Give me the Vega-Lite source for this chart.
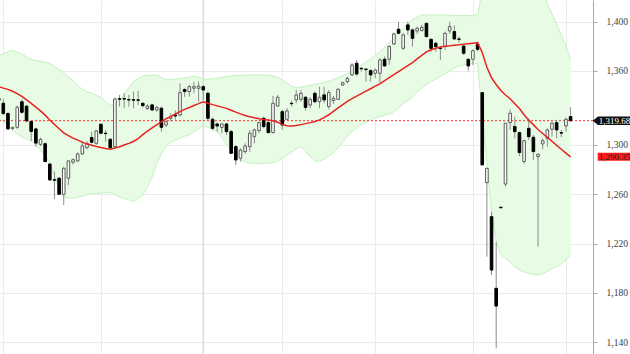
{
  "$schema": "https://vega.github.io/schema/vega-lite/v6.json",
  "width": 593,
  "height": 354,
  "autosize": {"type": "none"},
  "padding": {"left": 0, "top": 0, "right": 37, "bottom": 0},
  "background": "white",
  "config": {"view": {"stroke": null}, "font": "Liberation Sans Narrow", "scale": {"continuousPadding": 0}},
  "datasets": {
    "candles": [
      {"k":-1,"o":1338,"h":1340,"l":1333,"c":1336,"ma":1347.3,"up":1372.5,"lo":1321},
      {"k":0,"o":1333.8,"h":1337.5,"l":1324,"c":1325.5,"ma":1346.1,"up":1374,"lo":1319},
      {"k":1,"o":1325.5,"h":1326.5,"l":1312,"c":1313,"ma":1345.1,"up":1375.5,"lo":1316},
      {"k":2,"o":1313.5,"h":1315,"l":1312,"c":1314,"ma":1343.6,"up":1377,"lo":1312},
      {"k":3,"o":1314.3,"h":1332,"l":1313,"c":1330.5,"ma":1341.7,"up":1375.5,"lo":1309},
      {"k":4,"o":1335,"h":1337,"l":1325.5,"c":1326.5,"ma":1339.4,"up":1373.5,"lo":1306.5},
      {"k":5,"o":1331.5,"h":1332.5,"l":1318.5,"c":1319.5,"ma":1336.5,"up":1371.5,"lo":1305},
      {"k":6,"o":1319,"h":1320,"l":1303,"c":1311,"ma":1333.7,"up":1369.5,"lo":1303.5},
      {"k":7,"o":1313,"h":1314,"l":1298.5,"c":1301.5,"ma":1330.7,"up":1368.5,"lo":1300},
      {"k":8,"o":1300.5,"h":1306,"l":1299,"c":1304.5,"ma":1327.6,"up":1368,"lo":1296},
      {"k":9,"o":1301,"h":1302,"l":1286,"c":1286.5,"ma":1324.2,"up":1367.1,"lo":1291},
      {"k":10,"o":1284.5,"h":1285.5,"l":1271,"c":1271.6,"ma":1320.2,"up":1366.4,"lo":1285},
      {"k":11,"o":1271.8,"h":1278.4,"l":1256.2,"c":1271.4,"ma":1316.7,"up":1363.8,"lo":1275},
      {"k":12,"o":1273,"h":1274,"l":1259.5,"c":1260,"ma":1313.2,"up":1361.2,"lo":1265},
      {"k":13,"o":1260,"h":1282.4,"l":1251.3,"c":1281,"ma":1309.8,"up":1358.5,"lo":1258},
      {"k":14,"o":1273,"h":1287.5,"l":1267.5,"c":1287,"ma":1307.6,"up":1355.5,"lo":1256.8},
      {"k":15,"o":1286,"h":1289,"l":1284,"c":1288,"ma":1305.5,"up":1352,"lo":1257},
      {"k":16,"o":1287,"h":1294,"l":1286,"c":1292.7,"ma":1303.9,"up":1348.5,"lo":1257.5},
      {"k":17,"o":1292.7,"h":1302.7,"l":1291.9,"c":1299.2,"ma":1302.3,"up":1345,"lo":1258.5},
      {"k":18,"o":1297.8,"h":1303,"l":1296.5,"c":1301.3,"ma":1300.7,"up":1343.3,"lo":1259.5},
      {"k":19,"o":1306,"h":1310.8,"l":1301.3,"c":1302.2,"ma":1299.8,"up":1341.9,"lo":1260.2},
      {"k":20,"o":1301.3,"h":1312.2,"l":1300,"c":1311.4,"ma":1298.8,"up":1340.4,"lo":1260.5},
      {"k":21,"o":1316.8,"h":1317.6,"l":1308.7,"c":1309.5,"ma":1297.9,"up":1338.5,"lo":1261},
      {"k":22,"o":1309.5,"h":1312.2,"l":1302.7,"c":1309.2,"ma":1297.2,"up":1335.2,"lo":1261.2},
      {"k":23,"o":1304.6,"h":1305.5,"l":1296.8,"c":1297.8,"ma":1296.6,"up":1332,"lo":1261.3},
      {"k":24,"o":1298.6,"h":1338.4,"l":1297.8,"c":1337.3,"ma":1297.5,"up":1333,"lo":1260},
      {"k":25,"o":1337.5,"h":1340.6,"l":1331.1,"c":1337.1,"ma":1298.5,"up":1336.2,"lo":1258},
      {"k":26,"o":1337.6,"h":1342,"l":1329.8,"c":1337.2,"ma":1299.9,"up":1341,"lo":1256.5},
      {"k":27,"o":1336.8,"h":1340.6,"l":1331.1,"c":1336.5,"ma":1301.3,"up":1346.6,"lo":1255.5},
      {"k":28,"o":1336.7,"h":1343.3,"l":1329.8,"c":1336.3,"ma":1302.8,"up":1351.6,"lo":1254},
      {"k":29,"o":1336.6,"h":1343.8,"l":1332.4,"c":1336.2,"ma":1305.1,"up":1353.8,"lo":1256.5},
      {"k":30,"o":1333.8,"h":1334.5,"l":1330.5,"c":1331.9,"ma":1308.4,"up":1356,"lo":1259.5},
      {"k":31,"o":1329.5,"h":1333,"l":1328.5,"c":1331.5,"ma":1311.2,"up":1356.3,"lo":1266},
      {"k":32,"o":1332.5,"h":1333.5,"l":1327.5,"c":1328.4,"ma":1313.8,"up":1356.5,"lo":1274},
      {"k":33,"o":1328.4,"h":1331.5,"l":1327,"c":1330.6,"ma":1316.2,"up":1356.8,"lo":1285},
      {"k":34,"o":1329.8,"h":1331,"l":1310.8,"c":1314.3,"ma":1318.7,"up":1354.9,"lo":1293},
      {"k":35,"o":1316.2,"h":1320,"l":1314.5,"c":1318.9,"ma":1321.3,"up":1353,"lo":1299},
      {"k":36,"o":1321.6,"h":1325.7,"l":1319,"c":1323,"ma":1323,"up":1353,"lo":1302},
      {"k":37,"o":1324.3,"h":1328,"l":1320.5,"c":1323.5,"ma":1325.1,"up":1353.4,"lo":1304},
      {"k":38,"o":1324.3,"h":1350,"l":1323,"c":1342.4,"ma":1327,"up":1353.8,"lo":1305.5},
      {"k":39,"o":1345,"h":1346,"l":1339,"c":1343.3,"ma":1328.9,"up":1354.3,"lo":1307},
      {"k":40,"o":1343.3,"h":1348.6,"l":1339.2,"c":1347.3,"ma":1330.4,"up":1355,"lo":1308.5},
      {"k":41,"o":1346,"h":1351,"l":1342,"c":1347.3,"ma":1332,"up":1355.6,"lo":1310.5},
      {"k":42,"o":1346,"h":1351.4,"l":1335,"c":1347.8,"ma":1333.5,"up":1355,"lo":1313},
      {"k":43,"o":1347.3,"h":1348.6,"l":1336.5,"c":1344.6,"ma":1335.1,"up":1353,"lo":1315.5},
      {"k":44,"o":1341.9,"h":1343.3,"l":1320.3,"c":1321.6,"ma":1333.8,"up":1353.4,"lo":1314.5},
      {"k":45,"o":1320.8,"h":1322.4,"l":1312.2,"c":1313.5,"ma":1332.7,"up":1353.8,"lo":1312},
      {"k":46,"o":1317,"h":1318.1,"l":1310.8,"c":1315.4,"ma":1331.7,"up":1354.2,"lo":1310.8},
      {"k":47,"o":1314.3,"h":1317.6,"l":1309.5,"c":1317,"ma":1330.7,"up":1354.8,"lo":1306},
      {"k":48,"o":1317,"h":1318.1,"l":1308.1,"c":1310.8,"ma":1329.7,"up":1355.5,"lo":1300.5},
      {"k":49,"o":1310.8,"h":1312.2,"l":1293,"c":1293.2,"ma":1328.2,"up":1356,"lo":1296},
      {"k":50,"o":1298.6,"h":1300,"l":1283.8,"c":1287.8,"ma":1326.6,"up":1356.3,"lo":1292},
      {"k":51,"o":1289.2,"h":1297.3,"l":1286.5,"c":1295.9,"ma":1325.2,"up":1356.5,"lo":1288},
      {"k":52,"o":1294.6,"h":1301.3,"l":1292.7,"c":1299.2,"ma":1323.9,"up":1356.6,"lo":1286.5},
      {"k":53,"o":1298.6,"h":1312.2,"l":1294.6,"c":1309.5,"ma":1322.9,"up":1356.8,"lo":1285.3},
      {"k":54,"o":1306.7,"h":1313.5,"l":1301.3,"c":1312.2,"ma":1322,"up":1356.8,"lo":1285.1},
      {"k":55,"o":1311.6,"h":1319,"l":1309.5,"c":1318.1,"ma":1321.2,"up":1356.8,"lo":1285.1},
      {"k":56,"o":1321.6,"h":1323,"l":1313.5,"c":1314.9,"ma":1320.7,"up":1356.8,"lo":1285.1},
      {"k":57,"o":1318.1,"h":1319,"l":1309.5,"c":1310,"ma":1320.3,"up":1356.6,"lo":1285.1},
      {"k":58,"o":1310,"h":1339.8,"l":1309.5,"c":1333.8,"ma":1319.7,"up":1355.9,"lo":1285.5},
      {"k":59,"o":1331.6,"h":1340.6,"l":1331,"c":1338.7,"ma":1318.4,"up":1355,"lo":1286.8},
      {"k":60,"o":1327,"h":1328.4,"l":1312.2,"c":1316.2,"ma":1316.7,"up":1352.5,"lo":1289},
      {"k":61,"o":1320.8,"h":1329.8,"l":1320.3,"c":1327.6,"ma":1315.6,"up":1350.2,"lo":1292},
      {"k":62,"o":1333.8,"h":1336,"l":1331,"c":1333.5,"ma":1315.4,"up":1347.8,"lo":1294},
      {"k":63,"o":1336.5,"h":1344.6,"l":1333.8,"c":1340.6,"ma":1315.7,"up":1346.2,"lo":1297},
      {"k":64,"o":1337,"h":1344.6,"l":1335.2,"c":1341.9,"ma":1316.5,"up":1346.9,"lo":1298.6},
      {"k":65,"o":1338.7,"h":1339.8,"l":1327.8,"c":1330.5,"ma":1317.3,"up":1347.7,"lo":1294.5},
      {"k":66,"o":1332.4,"h":1338.7,"l":1329.7,"c":1337,"ma":1318.1,"up":1348.5,"lo":1290.5},
      {"k":67,"o":1341.9,"h":1343.3,"l":1333.8,"c":1335.1,"ma":1319,"up":1349.2,"lo":1287},
      {"k":68,"o":1335.1,"h":1347.3,"l":1329.7,"c":1338.7,"ma":1320.3,"up":1349.9,"lo":1286.5},
      {"k":69,"o":1340.6,"h":1347.3,"l":1333.8,"c":1336.5,"ma":1322.2,"up":1350.7,"lo":1288.5},
      {"k":70,"o":1331.1,"h":1344.6,"l":1328.9,"c":1342.5,"ma":1324.5,"up":1351.6,"lo":1291},
      {"k":71,"o":1336,"h":1339.8,"l":1333.3,"c":1337.8,"ma":1327.2,"up":1353.1,"lo":1293.5},
      {"k":72,"o":1337,"h":1346,"l":1336.5,"c":1345.2,"ma":1330,"up":1354.6,"lo":1297.5},
      {"k":73,"o":1348.7,"h":1351.4,"l":1347.9,"c":1350.5,"ma":1332.8,"up":1356.1,"lo":1302.5},
      {"k":74,"o":1351.4,"h":1355.4,"l":1350,"c":1354,"ma":1335.4,"up":1357.9,"lo":1307},
      {"k":75,"o":1356.8,"h":1366.3,"l":1356,"c":1364.9,"ma":1337.6,"up":1360.2,"lo":1311},
      {"k":76,"o":1366.3,"h":1369,"l":1355.9,"c":1357.6,"ma":1339.6,"up":1362.4,"lo":1314},
      {"k":77,"o":1362.2,"h":1363,"l":1359.5,"c":1361.8,"ma":1341.6,"up":1364.7,"lo":1316.5},
      {"k":78,"o":1361.6,"h":1361.8,"l":1351.4,"c":1361.2,"ma":1343.6,"up":1367.4,"lo":1318.5},
      {"k":79,"o":1360.3,"h":1361.4,"l":1351.4,"c":1356.8,"ma":1345.6,"up":1370,"lo":1320.5},
      {"k":80,"o":1358.1,"h":1362,"l":1354.1,"c":1360.8,"ma":1347.7,"up":1372.7,"lo":1322},
      {"k":81,"o":1358.1,"h":1370.3,"l":1350.5,"c":1369,"ma":1349.6,"up":1375.7,"lo":1323},
      {"k":82,"o":1369.5,"h":1371.7,"l":1363.5,"c":1364.1,"ma":1352.2,"up":1379.5,"lo":1324.3},
      {"k":83,"o":1369.5,"h":1381.1,"l":1364.9,"c":1379.8,"ma":1354.7,"up":1383.3,"lo":1325.3},
      {"k":84,"o":1381.9,"h":1391.1,"l":1381.1,"c":1390.1,"ma":1357,"up":1387,"lo":1327},
      {"k":85,"o":1393.9,"h":1400,"l":1390,"c":1390.6,"ma":1359.5,"up":1390.8,"lo":1330},
      {"k":86,"o":1378.4,"h":1390.6,"l":1377.1,"c":1389.3,"ma":1361.9,"up":1394.5,"lo":1333.5},
      {"k":87,"o":1397.4,"h":1400,"l":1389.3,"c":1393.3,"ma":1364.3,"up":1398.3,"lo":1336},
      {"k":88,"o":1393.3,"h":1394.7,"l":1379.8,"c":1386.5,"ma":1366.8,"up":1401.7,"lo":1339},
      {"k":89,"o":1392.5,"h":1396,"l":1390,"c":1394.7,"ma":1369.8,"up":1403.6,"lo":1343},
      {"k":90,"o":1392.8,"h":1397.4,"l":1392,"c":1395.5,"ma":1372.6,"up":1405.5,"lo":1346},
      {"k":91,"o":1398.7,"h":1399.3,"l":1387.3,"c":1387.9,"ma":1375.5,"up":1405.5,"lo":1349},
      {"k":92,"o":1385.7,"h":1386.5,"l":1375.7,"c":1378.4,"ma":1377.2,"up":1405.5,"lo":1351.5},
      {"k":93,"o":1382.5,"h":1383.8,"l":1375.7,"c":1379.8,"ma":1378.5,"up":1405.5,"lo":1353.5},
      {"k":94,"o":1378.6,"h":1379.3,"l":1368.9,"c":1378.2,"ma":1379.4,"up":1405.5,"lo":1355.5},
      {"k":95,"o":1379.8,"h":1392,"l":1377,"c":1390.6,"ma":1380,"up":1405.5,"lo":1357.5},
      {"k":96,"o":1392.5,"h":1400,"l":1390,"c":1396,"ma":1380.4,"up":1405.2,"lo":1360},
      {"k":97,"o":1392,"h":1397,"l":1385,"c":1386,"ma":1380.9,"up":1405,"lo":1362.5},
      {"k":98,"o":1386,"h":1388,"l":1383,"c":1385.6,"ma":1381.3,"up":1405,"lo":1364},
      {"k":99,"o":1380.3,"h":1381,"l":1373,"c":1374.4,"ma":1381.8,"up":1405,"lo":1365},
      {"k":100,"o":1369.5,"h":1370,"l":1360.3,"c":1364.1,"ma":1382.2,"up":1405,"lo":1365.5},
      {"k":101,"o":1369.5,"h":1377.6,"l":1364.9,"c":1376.5,"ma":1382.6,"up":1405,"lo":1366},
      {"k":102,"o":1381.7,"h":1383.8,"l":1376,"c":1377.6,"ma":1383,"up":1406,"lo":1366},
      {"k":103,"o":1342.5,"h":1342.5,"l":1283.8,"c":1283.8,"ma":1375,"up":1425,"lo":1325},
      {"k":104,"o":1269.4,"h":1281.5,"l":1209.4,"c":1281,"ma":1363,"up":1441,"lo":1285},
      {"k":105,"o":1241.8,"h":1245.9,"l":1194.5,"c":1198.5,"ma":1354.5,"up":1464,"lo":1245},
      {"k":106,"o":1183.7,"h":1221.5,"l":1135,"c":1169.3,"ma":1349,"up":1476,"lo":1222},
      {"k":107,"o":1249.5,"h":1249.8,"l":1248.8,"c":1249,"ma":1344.2,"up":1477,"lo":1211},
      {"k":108,"o":1268.3,"h":1318,"l":1266.2,"c":1317.6,"ma":1340.5,"up":1473,"lo":1208},
      {"k":109,"o":1318.1,"h":1328.9,"l":1312.2,"c":1325.7,"ma":1337.5,"up":1470,"lo":1205},
      {"k":110,"o":1314.9,"h":1323,"l":1305.4,"c":1310.8,"ma":1333.5,"up":1466,"lo":1201},
      {"k":111,"o":1310,"h":1310.8,"l":1291,"c":1293.8,"ma":1329.5,"up":1460.5,"lo":1198.5},
      {"k":112,"o":1286.5,"h":1304,"l":1284.6,"c":1303.5,"ma":1324.5,"up":1452,"lo":1197},
      {"k":113,"o":1313.5,"h":1321.6,"l":1304,"c":1306.7,"ma":1320,"up":1444,"lo":1196},
      {"k":114,"o":1306.2,"h":1308.1,"l":1287.8,"c":1294.6,"ma":1316.5,"up":1438,"lo":1195},
      {"k":115,"o":1290.5,"h":1292.9,"l":1217.5,"c":1292.5,"ma":1312.5,"up":1430.5,"lo":1194.5},
      {"k":116,"o":1300.8,"h":1305.4,"l":1296.5,"c":1303.5,"ma":1309.3,"up":1423,"lo":1195.5},
      {"k":117,"o":1305.4,"h":1313.5,"l":1298.6,"c":1312.2,"ma":1306.2,"up":1415,"lo":1197.5},
      {"k":118,"o":1312.7,"h":1318.9,"l":1306.7,"c":1317.6,"ma":1303,"up":1406.5,"lo":1199.5},
      {"k":119,"o":1318.1,"h":1320.3,"l":1305.4,"c":1312.2,"ma":1299.7,"up":1398,"lo":1201.5},
      {"k":120,"o":1310,"h":1312.2,"l":1306.2,"c":1309.6,"ma":1296.5,"up":1389.5,"lo":1203.5},
      {"k":121,"o":1315.4,"h":1322.4,"l":1310.8,"c":1320.8,"ma":1293.4,"up":1380.3,"lo":1206.5},
      {"k":122,"o":1323,"h":1330.5,"l":1318.9,"c":1319.68,"ma":1290.35,"up":1369.7,"lo":1211}
    ],
    "lastprice": [{"price": 1319.68, "label": "1,319.68"}],
    "lastma": [{"price": 1290.35, "label": "1,290.35"}],
    "yearmark": [{"k": 43}]
  },
  "layer": [
    {
      "data": {"name": "candles"},
      "mark": {"type": "area", "clip": true, "fill": "#e7fbe5", "opacity": 1},
      "encoding": {
        "x": {
          "field": "k",
          "type": "quantitative",
          "scale": {"domain": [-0.71, 126.82], "nice": false, "zero": false, "padding": 0},
          "axis": {
            "orient": "bottom",
            "values": [0, 21, 43, 60, 80, 101, 121],
            "labels": false,
            "ticks": false,
            "domain": false,
            "grid": true,
            "gridColor": "#ebebeb",
            "title": null
          }
        },
        "y": {
          "field": "lo",
          "type": "quantitative",
          "scale": {"domain": [1130.4, 1417.6], "nice": false, "zero": false},
          "axis": {
            "orient": "right",
            "values": [1140, 1160, 1180, 1200, 1220, 1240, 1260, 1280, 1300, 1340, 1360, 1380, 1400, 1420],
            "grid": true,
            "gridColor": "#ebebeb",
            "domainColor": "#a8a8a8",
            "tickColor": "#a8a8a8",
            "tickSize": 4,
            "labelColor": "#404040",
            "labelFontSize": 9.5,
            "labelFont": "Liberation Sans Narrow",
            "labelPadding": 9,
            "labelOverlap": false,
            "labelLimit": 0,
            "format": ",.0f",
            "title": null
          }
        },
        "y2": {"field": "up"}
      }
    },
    {
      "data": {"name": "yearmark"},
      "mark": {"type": "rule", "stroke": "#dcdcdc", "strokeWidth": 1.5},
      "encoding": {"x": {"field": "k", "type": "quantitative"}}
    },
    {
      "data": {"name": "candles"},
      "mark": {"type": "line", "clip": true, "stroke": "#c4f2c0", "strokeWidth": 1},
      "encoding": {
        "x": {"field": "k", "type": "quantitative"},
        "y": {"field": "up", "type": "quantitative"}
      }
    },
    {
      "data": {"name": "candles"},
      "mark": {"type": "line", "clip": true, "stroke": "#c4f2c0", "strokeWidth": 1},
      "encoding": {
        "x": {"field": "k", "type": "quantitative"},
        "y": {"field": "lo", "type": "quantitative"}
      }
    },
    {
      "data": {"name": "lastprice"},
      "mark": {"type": "rule", "stroke": "#ff3030", "strokeWidth": 1, "strokeDash": [2, 2]},
      "encoding": {
        "y": {"field": "price", "type": "quantitative"}
      }
    },
    {
      "data": {"name": "candles"},
      "mark": {"type": "rule", "stroke": "#8a8a8a", "strokeWidth": 1},
      "encoding": {
        "x": {"field": "k", "type": "quantitative"},
        "y": {"field": "l", "type": "quantitative"},
        "y2": {"field": "h"}
      }
    },
    {
      "data": {"name": "candles"},
      "mark": {"type": "bar", "size": 2.6, "strokeWidth": 1, "orient": "vertical"},
      "encoding": {
        "x": {"field": "k", "type": "quantitative"},
        "y": {"field": "o", "type": "quantitative"},
        "y2": {"field": "c"},
        "fill": {"condition": {"test": "datum.c > datum.o", "value": "#ffffff"}, "value": "#000000"},
        "stroke": {"condition": {"test": "datum.c > datum.o", "value": "#5a5a5a"}, "value": "#000000"}
      }
    },
    {
      "data": {"name": "candles"},
      "mark": {"type": "line", "stroke": "#e82222", "strokeWidth": 1.5, "clip": true},
      "encoding": {
        "x": {"field": "k", "type": "quantitative"},
        "y": {"field": "ma", "type": "quantitative"}
      }
    },
    {
      "data": {"name": "lastprice"},
      "mark": {"type": "point", "shape": "M-1,0L-0.776,-0.178L1,-0.178L1,0.178L-0.776,0.178Z", "size": 2237, "filled": true, "fill": "#111111", "opacity": 1, "strokeWidth": 0},
      "encoding": {
        "x": {"datum": 131.84, "type": "quantitative"},
        "y": {"field": "price", "type": "quantitative"}
      }
    },
    {
      "data": {"name": "lastprice"},
      "mark": {"type": "text", "align": "left", "baseline": "middle", "fill": "#ffffff", "fontSize": 9, "font": "Liberation Sans Narrow", "dx": -17.6},
      "encoding": {
        "x": {"datum": 131.84, "type": "quantitative"},
        "y": {"field": "price", "type": "quantitative"},
        "text": {"field": "label"}
      }
    },
    {
      "data": {"name": "lastma"},
      "mark": {"type": "point", "shape": "M-1,-0.189L1,-0.189L1,0.189L-1,0.189Z", "size": 1789, "filled": true, "fill": "#ff1a1a", "opacity": 1, "strokeWidth": 0},
      "encoding": {
        "x": {"datum": 132.38, "type": "quantitative"},
        "y": {"field": "price", "type": "quantitative"}
      }
    },
    {
      "data": {"name": "lastma"},
      "mark": {"type": "text", "align": "left", "baseline": "middle", "fill": "#222222", "fontSize": 9, "font": "Liberation Sans Narrow", "dx": -20},
      "encoding": {
        "x": {"datum": 132.38, "type": "quantitative"},
        "y": {"field": "price", "type": "quantitative"},
        "text": {"field": "label"}
      }
    }
  ]
}
